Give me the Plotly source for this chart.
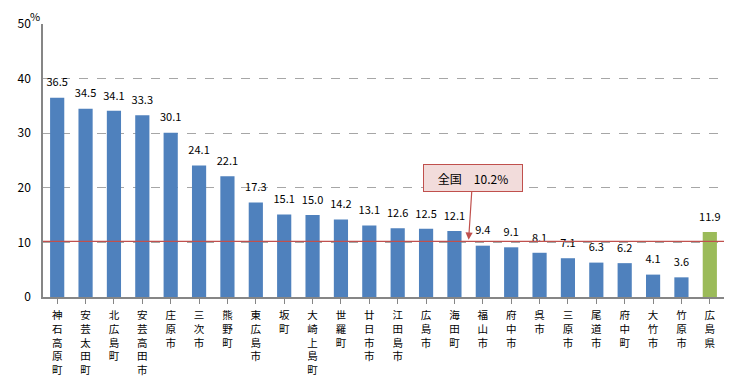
import plotly.graph_objects as go

categories = ["神石高原町", "安芸太田町", "北広島町", "安芸高田市", "庄原市", "三次市", "熊野町", "東広島市",
              "坂町", "大崎上島町", "世羅町", "廿日市市", "江田島市", "広島市", "海田町", "福山市",
              "府中市", "呉市", "三原市", "尾道市", "府中町", "大竹市", "竹原市", "広島県"]
values = [36.5, 34.5, 34.1, 33.3, 30.1, 24.1, 22.1, 17.3, 15.1, 15.0, 14.2, 13.1, 12.6, 12.5, 12.1,
          9.4, 9.1, 8.1, 7.1, 6.3, 6.2, 4.1, 3.6, 11.9]
national = 10.2
y_ticks = [0, 10, 20, 30, 40, 50]

blue = "#4F81BD"
green = "#9BBB59"
red = "#C0504D"
colors = [green if c == "広島県" else blue for c in categories]
ticktext = ["<br>".join(list(c)) for c in categories]
font = "Noto Sans CJK JP, sans-serif"
xs = list(range(len(categories)))

fig = go.Figure()
fig.add_trace(go.Bar(
    x=xs, y=values, marker_color=colors, marker_line_width=0, width=0.5, hoverinfo="skip",
))
fig.add_trace(go.Scatter(
    x=xs, y=values, mode="markers+text", text=[f"{v:.1f}" for v in values],
    textposition="top center", cliponaxis=False,
    marker=dict(size=12, opacity=0),
    textfont=dict(size=11, color="#000000", family=font),
))
fig.add_shape(type="line", xref="paper", x0=0, x1=1, yref="y", y0=national, y1=national,
              line=dict(color=red, width=1.2))
fig.add_annotation(x=14.5, y=national + 0.3, xref="x", yref="y", text="全国　10.2%",
                   showarrow=True, ax=4, ay=-62, arrowcolor=red, arrowhead=2, arrowsize=1.2,
                   arrowwidth=1.2, bgcolor="#F2DCDB", bordercolor=red, borderwidth=1,
                   borderpad=3, width=92, height=20,
                   font=dict(size=12, color="#000000", family=font))
fig.add_annotation(x=0, y=1, xref="paper", yref="paper", xanchor="center", yanchor="middle",
                   xshift=-8, yshift=8, text="%", showarrow=False,
                   font=dict(size=11, color="#000000", family=font))
fig.update_layout(
    width=748, height=371, margin=dict(l=35, r=32, t=16, b=82),
    plot_bgcolor="white", paper_bgcolor="white", showlegend=False,
    font=dict(family=font, color="#000000"),
    xaxis=dict(tickmode="array", tickvals=xs, ticktext=ticktext, automargin=False,
               tickangle=0, range=[-0.5, len(categories) - 0.5], showline=True,
               linecolor="#868686", linewidth=1.5, ticks="outside", tickson="boundaries",
               ticklen=5, tickcolor="#868686", showgrid=False, tickfont=dict(size=10.5),
               ticklabelstandoff=3),
    yaxis=dict(range=[0, 50], tickvals=y_ticks, showline=True, linecolor="#868686",
               automargin=False,
               linewidth=1.5, showgrid=True, gridcolor="#A6A6A6", griddash="dash",
               gridwidth=1, zeroline=False, tickfont=dict(size=12), ticks="", ticklabelstandoff=8),
)
fig.write_html("out.html")
